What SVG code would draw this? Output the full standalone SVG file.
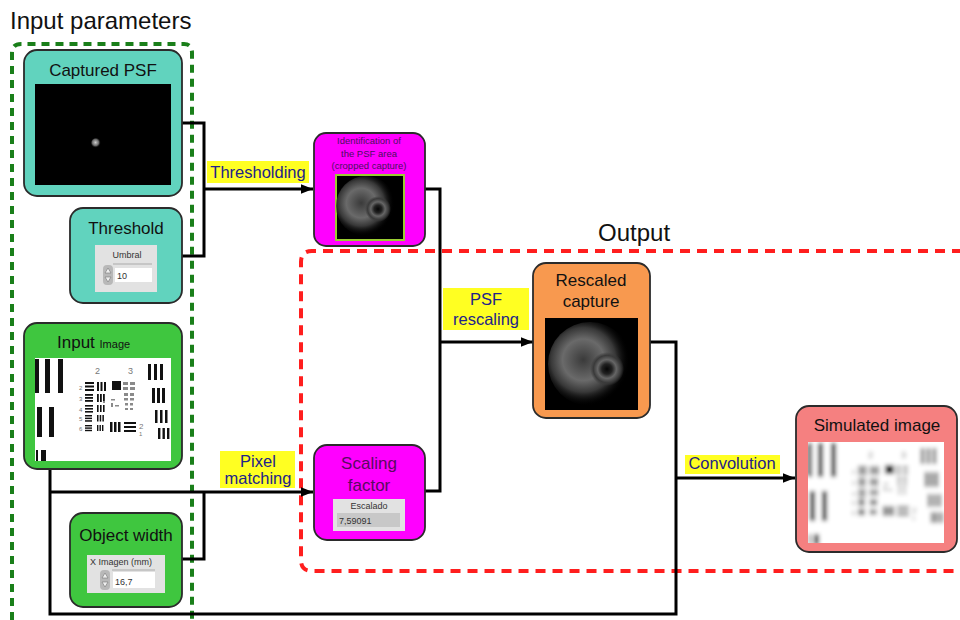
<svg xmlns="http://www.w3.org/2000/svg" width="960" height="620" viewBox="0 0 960 620">
<style>
.node{stroke:#2b2b2b;stroke-width:1.8}
.t{font-family:"Liberation Sans",Arial,sans-serif;fill:#111}
.lbl{font-family:"Liberation Sans",Arial,sans-serif;fill:#22228a;font-size:16.5px;text-anchor:middle}
.ybg{fill:#ffff22}
.wire{fill:none;stroke:#000;stroke-width:3}
.panel{fill:#e2e2e2}
.small{font-family:"Liberation Sans",Arial,sans-serif;font-size:9px;fill:#333}
</style>
<defs>
<marker id="arr" viewBox="0 0 10 8" refX="10" refY="4" markerWidth="4" markerHeight="3.2" orient="auto" markerUnits="strokeWidth">
<path d="M0,0 L10,4 L0,8 z" fill="#000"/>
</marker>
<radialGradient id="dot" cx="0.45" cy="0.45" r="0.55">
<stop offset="0" stop-color="#ccc"/><stop offset="0.6" stop-color="#666"/><stop offset="1" stop-color="#000" stop-opacity="0"/>
</radialGradient>
<radialGradient id="glow" cx="0.42" cy="0.45" r="0.55">
<stop offset="0" stop-color="#3a3a3a"/><stop offset="0.45" stop-color="#6a6a6a"/><stop offset="0.7" stop-color="#383838"/><stop offset="1" stop-color="#000" stop-opacity="0"/>
</radialGradient>
<radialGradient id="core" cx="0.5" cy="0.5" r="0.5">
<stop offset="0" stop-color="#050505"/><stop offset="0.3" stop-color="#222"/><stop offset="0.55" stop-color="#666"/><stop offset="0.8" stop-color="#3a3a3a"/><stop offset="1" stop-color="#3a3a3a" stop-opacity="0"/>
</radialGradient>
<filter id="blur" x="-5%" y="-5%" width="110%" height="110%"><feGaussianBlur stdDeviation="2.2"/></filter>
<clipPath id="simclip"><rect x="808" y="442" width="136" height="101"/></clipPath>
<g id="usaf">
<rect width="136" height="103" fill="#fff"/>
<g fill="#111">
<rect x="0" y="1" width="4" height="34"/><rect x="10" y="1" width="5" height="34"/><rect x="23" y="1" width="5" height="34"/>
<rect x="2" y="49" width="5" height="30"/><rect x="14" y="49" width="5" height="30"/>
<rect x="1" y="92" width="2" height="11"/><rect x="6" y="92" width="5" height="11"/>
<rect x="113" y="6" width="3" height="16"/><rect x="119" y="6" width="3" height="16"/><rect x="125" y="6" width="3" height="16"/>
<rect x="117" y="30" width="3" height="15"/><rect x="122" y="30" width="3" height="15"/><rect x="127" y="30" width="3" height="15"/>
<rect x="120" y="52" width="2.5" height="13"/><rect x="125" y="52" width="2.5" height="13"/><rect x="130" y="52" width="2.5" height="13"/>
<rect x="123" y="70" width="2.4" height="11"/><rect x="127.5" y="70" width="2.4" height="11"/><rect x="132" y="70" width="2.4" height="11"/>
<rect x="77" y="23" width="9" height="9"/>
<rect x="50" y="24" width="9" height="2"/><rect x="50" y="27.5" width="9" height="2"/><rect x="50" y="31" width="9" height="2"/>
<rect x="62" y="24" width="2" height="9"/><rect x="65.5" y="24" width="2" height="9"/><rect x="69" y="24" width="2" height="9"/>
<rect x="50" y="36" width="8" height="1.8"/><rect x="50" y="39" width="8" height="1.8"/><rect x="50" y="42" width="8" height="1.8"/>
<rect x="62" y="36" width="1.8" height="8"/><rect x="65" y="36" width="1.8" height="8"/><rect x="68" y="36" width="1.8" height="8"/>
<rect x="50" y="47" width="8" height="1.6"/><rect x="50" y="50" width="8" height="1.6"/><rect x="50" y="53" width="8" height="1.6"/>
<rect x="62" y="47" width="1.6" height="7"/><rect x="65" y="47" width="1.6" height="7"/><rect x="68" y="47" width="1.6" height="7"/>
<rect x="50" y="57" width="7" height="1.5"/><rect x="50" y="59.6" width="7" height="1.5"/><rect x="50" y="62.2" width="7" height="1.5"/>
<rect x="62" y="57" width="1.5" height="6.5"/><rect x="64.7" y="57" width="1.5" height="6.5"/><rect x="67.4" y="57" width="1.5" height="6.5"/>
<rect x="50" y="67" width="7" height="1.4"/><rect x="50" y="69.4" width="7" height="1.4"/><rect x="50" y="71.8" width="7" height="1.4"/>
<rect x="62" y="67" width="1.4" height="6"/><rect x="64.5" y="67" width="1.4" height="6"/><rect x="67" y="67" width="1.4" height="6"/>
<rect x="75" y="64" width="2.5" height="10"/><rect x="79" y="64" width="2.5" height="10"/><rect x="83" y="64" width="2.5" height="10"/>
<rect x="89" y="64" width="12" height="2"/><rect x="89" y="68" width="12" height="2"/><rect x="89" y="72" width="12" height="2"/>
</g>
<g fill="#8a8a8a">
<rect x="88" y="24" width="5" height="3"/><rect x="95" y="24" width="5" height="3"/>
<rect x="88" y="29" width="5" height="3"/><rect x="95" y="29" width="5" height="3"/>
<rect x="89" y="35" width="4" height="3"/><rect x="95" y="35" width="4" height="3"/>
<rect x="89" y="40" width="4" height="2.5"/><rect x="95" y="40" width="4" height="2.5"/>
<rect x="90" y="45" width="3" height="2.5"/><rect x="95" y="45" width="3" height="2.5"/>
<rect x="90" y="50" width="3" height="2"/><rect x="95" y="50" width="3" height="2"/>
<rect x="68" y="43" width="2" height="2"/><rect x="76" y="41" width="4" height="1.5"/><rect x="76" y="45" width="2" height="4"/><rect x="80" y="47" width="4" height="1.5"/>
</g>
<g font-family="Liberation Sans,Arial,sans-serif" fill="#777">
<text x="60" y="16" font-size="9">2</text><text x="93" y="16" font-size="9">3</text>
<text x="44" y="32" font-size="6">2</text><text x="44" y="43" font-size="6">3</text><text x="44" y="54" font-size="6">4</text><text x="44" y="63" font-size="6">5</text><text x="44" y="73" font-size="6">6</text>
<text x="104" y="71" font-size="8">2</text><text x="104" y="78" font-size="6">1</text>
</g>
</g>
<g id="spin"><rect x="0" y="0" width="10" height="20" rx="4" fill="#b8b8b8"/><path d="M2,8 L5,3 L8,8 z M2,12 L5,17 L8,12 z" fill="#eee" stroke="#777" stroke-width="0.6"/></g>
</defs>
<rect width="960" height="620" fill="#fff"/>

<text class="t" x="10" y="29" font-size="24">Input parameters</text>
<text class="t" x="598" y="241" font-size="24">Output</text>
<path d="M12,620 L12,53 Q12,44 21,44 L184,44 Q192,44 192,53 L192,620" fill="none" stroke="#1a7f1a" stroke-width="4" stroke-dasharray="8,6"/>
<path d="M962,251 L312,251 Q301,251 301,262 L301,560 Q301,571 312,571 L962,571" fill="none" stroke="#ff1e1e" stroke-width="4" stroke-dasharray="10,7"/>

<g id="connectors">
<path class="wire" d="M182,123 H204 V256 H182"/>
<path class="wire" d="M204,189 H313" marker-end="url(#arr)"/>
<path class="wire" d="M425,189 H440 V491 H425"/>
<path class="wire" d="M440,342 H533" marker-end="url(#arr)"/>
<path class="wire" d="M50,468 V614 H676 V342 H650"/>
<path class="wire" d="M50,492 H313" marker-end="url(#arr)"/>
<path class="wire" d="M182,559 H204 V492"/>
<path class="wire" d="M676,478 H795" marker-end="url(#arr)"/>
<rect class="ybg" x="207" y="161" width="102" height="22"/>
<text class="lbl" x="258" y="178">Thresholding</text>
<rect class="ybg" x="443" y="288" width="86" height="42"/>
<text class="lbl" x="486" y="305">PSF</text>
<text class="lbl" x="486" y="325">rescaling</text>
<rect class="ybg" x="220" y="451" width="75" height="37"/>
<text class="lbl" x="258" y="467">Pixel</text>
<text class="lbl" x="258" y="484">matching</text>
<rect class="ybg" x="685" y="455" width="95" height="19"/>
<text class="lbl" x="732" y="469">Convolution</text>
</g>

<g id="captured-psf">
<rect class="node" x="24" y="50" width="158" height="146" rx="13" fill="#61d3be"/>
<text class="t" x="103" y="76" font-size="17" text-anchor="middle">Captured PSF</text>
<rect x="35" y="84" width="136" height="101" fill="#000"/>
<circle cx="96" cy="143" r="5" fill="url(#dot)"/>
</g>

<g id="threshold">
<rect class="node" x="70" y="208" width="112" height="95" rx="13" fill="#61d3be"/>
<text class="t" x="126" y="234" font-size="17" text-anchor="middle">Threshold</text>
<rect class="panel" x="95" y="245" width="62" height="47"/>
<text class="small" x="127" y="258" text-anchor="middle">Umbral</text>
<line x1="113" y1="264" x2="152" y2="264" stroke="#aaa" stroke-width="1"/>
<rect x="115" y="268" width="37" height="14" fill="#fff"/>
<use href="#spin" x="103" y="265"/>
<text class="small" x="117" y="279" font-size="9.5" fill="#222">10</text>
</g>

<g id="input-image">
<rect class="node" x="24" y="323" width="158" height="146" rx="13" fill="#3fc63f"/>
<text class="t" x="57" y="348" font-size="17">Input <tspan font-size="11">Image</tspan></text>
<use href="#usaf" x="35" y="358"/>
</g>

<g id="object-width">
<rect class="node" x="70" y="513" width="112" height="94" rx="13" fill="#3fc63f"/>
<text class="t" x="126" y="541" font-size="17" text-anchor="middle">Object width</text>
<rect class="panel" x="87" y="555" width="78" height="38"/>
<text class="small" x="90" y="565">X Imagen  (mm)</text>
<line x1="112" y1="570" x2="155" y2="570" stroke="#aaa" stroke-width="1"/>
<rect x="113" y="572" width="42" height="16" fill="#fff"/>
<use href="#spin" x="100" y="570"/>
<text class="small" x="115" y="585" font-size="9.5" fill="#222">16,7</text>
</g>

<g id="identification">
<rect class="node" x="314" y="133" width="111" height="113" rx="12" fill="#ff00ff"/>
<g font-family="Liberation Sans,Arial,sans-serif" font-size="9.5" fill="#4a1060" text-anchor="middle">
<text x="369" y="144">Identification of</text>
<text x="369" y="157">the PSF area</text>
<text x="369" y="169">(cropped capture)</text>
</g>
<rect x="336" y="175" width="68" height="65" fill="#000" stroke="#9acd32" stroke-width="2"/>
<circle cx="366" cy="206" r="30" fill="url(#glow)"/>
<circle cx="378" cy="209" r="13" fill="url(#core)"/>
</g>

<g id="scaling-factor">
<rect class="node" x="314" y="445" width="111" height="95" rx="13" fill="#ff00ff"/>
<text x="369" y="469" font-family="Liberation Sans,Arial,sans-serif" font-size="17" fill="#5a0a60" text-anchor="middle">Scaling</text>
<text x="369" y="491" font-family="Liberation Sans,Arial,sans-serif" font-size="17" fill="#5a0a60" text-anchor="middle">factor</text>
<rect class="panel" x="333" y="499" width="72" height="32"/>
<text class="small" x="369" y="509" text-anchor="middle">Escalado</text>
<rect x="337" y="513" width="63" height="14" fill="#c8c8c8"/>
<text class="small" x="339" y="524" fill="#222">7,59091</text>
</g>

<g id="rescaled-capture">
<rect class="node" x="533" y="263" width="117" height="155" rx="13" fill="#f8994f"/>
<text class="t" x="591" y="286" font-size="17" text-anchor="middle">Rescaled</text>
<text class="t" x="591" y="307" font-size="17" text-anchor="middle">capture</text>
<rect x="545" y="318" width="93" height="92" fill="#000"/>
<circle cx="590" cy="364" r="42" fill="url(#glow)"/>
<circle cx="607" cy="369" r="17" fill="url(#core)"/>
</g>

<g id="simulated-image">
<rect class="node" x="796" y="406" width="161" height="146" rx="13" fill="#f58080"/>
<text class="t" x="877" y="431" font-size="17" text-anchor="middle">Simulated image</text>
<g clip-path="url(#simclip)"><rect x="808" y="442" width="136" height="101" fill="#fff"/><use href="#usaf" x="808" y="442" filter="url(#blur)"/></g>
</g>
</svg>
